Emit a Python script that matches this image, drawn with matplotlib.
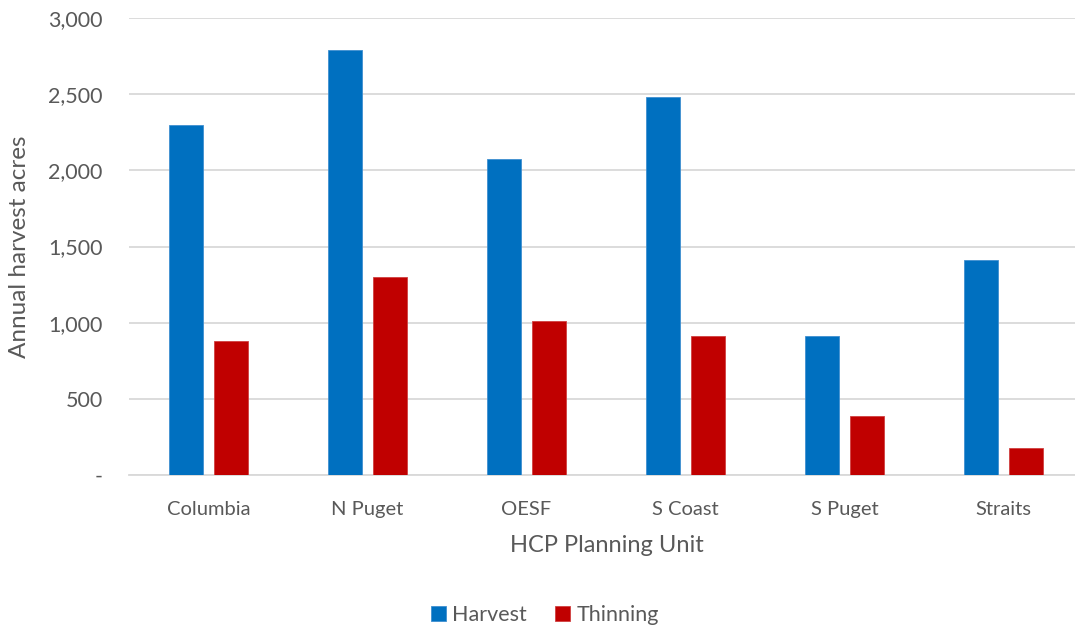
import matplotlib
matplotlib.use("Agg")
import matplotlib.pyplot as plt
import numpy as np
from matplotlib.ticker import FuncFormatter

# Annual harvest acres by HCP planning unit
units = ["Columbia", "N Puget", "OESF", "S Coast", "S Puget", "Straits"]
harvest = [2300, 2790, 2075, 2480, 910, 1410]
thinning = [880, 1300, 1010, 910, 390, 180]
series_names = ["Harvest", "Thinning"]
y_ticks = [0, 500, 1000, 1500, 2000, 2500, 3000]

BLUE = "#0070C0"
RED = "#C00000"
TEXT = "#595959"
GRID = "#D9D9D9"

plt.rcParams["font.family"] = ["Lato", "DejaVu Sans"]

W, H = 1075, 631
fig = plt.figure(figsize=(W / 100, H / 100), dpi=100)
# plot area in pixel terms: left 129, right 1083 (runs past right edge), top 18, bottom 475
ax = fig.add_axes([129 / W, 1 - 475 / H, 954 / W, (475 - 18) / H])

x = np.arange(len(units))
bw = 0.22
off = 0.1415
ax.bar(x - off, harvest, width=bw, color=BLUE, edgecolor="#3F8FD0", linewidth=0.6,
       label=series_names[0], zorder=3)
ax.bar(x + off, thinning, width=bw, color=RED, edgecolor="#D04040", linewidth=0.6,
       label=series_names[1], zorder=3)

ax.set_xlim(-0.5, len(units) - 0.5)
ax.set_ylim(0, 3000)
ax.set_yticks(y_ticks)
ax.yaxis.set_major_formatter(FuncFormatter(lambda v, p: "-" if v == 0 else f"{int(v):,}"))
ax.set_xticks(x)
ax.set_xticklabels(units)

ax.grid(axis="y", color=GRID, linewidth=1.3, zorder=0)
ax.set_axisbelow(True)
for s in ["top", "right", "left"]:
    ax.spines[s].set_visible(False)
ax.spines["bottom"].set_color(GRID)
ax.spines["bottom"].set_linewidth(1.3)
ax.tick_params(axis="both", length=0, colors=TEXT)
ax.tick_params(axis="x", labelsize=14.5, pad=19)
ax.tick_params(axis="y", labelsize=15.5, pad=19)

fig.text(20 / W, 1 - 247 / H, "Annual harvest acres", rotation=90, ha="center",
         va="center", fontsize=17.5, color=TEXT)
fig.text(607 / W, 1 - 546 / H, "HCP Planning Unit", ha="center", va="center",
         fontsize=17, color=TEXT)

leg = fig.legend(loc="center", bbox_to_anchor=(545 / W, 1 - 615 / H), ncol=2,
                 frameon=False, fontsize=15.5, handlelength=0.7, handleheight=0.7,
                 handletextpad=0.3, columnspacing=1.3)
for t in leg.get_texts():
    t.set_color(TEXT)

fig.savefig("out.png", dpi=100, facecolor="white")
